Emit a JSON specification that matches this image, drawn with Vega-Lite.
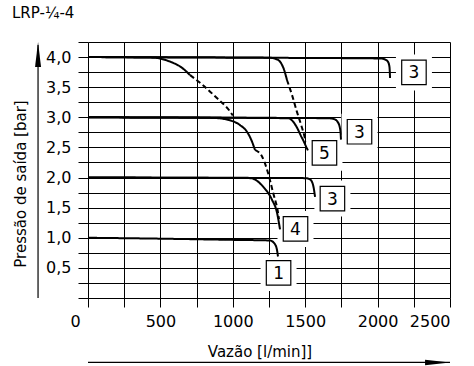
{
  "$schema": "https://vega.github.io/schema/vega-lite/v6.json",
  "width": 362,
  "height": 256,
  "autosize": "none",
  "padding": {"left": 88, "top": 42, "right": 24, "bottom": 68},
  "background": "white",
  "title": {"text": "LRP-¼-4", "anchor": "start", "frame": "group", "dx": -76, "offset": 1, "baseline": "alphabetic", "font": "DejaVu Sans", "fontSize": 15, "fontWeight": "normal", "color": "black"},
  "config": {
    "view": {"stroke": null},
    "axis": {"labelFont": "DejaVu Sans", "titleFont": "DejaVu Sans", "labelColor": "black", "titleColor": "black", "tickColor": "black", "tickWidth": 1, "domain": false, "titleFontWeight": "normal", "labelOverlap": false}
  },
  "datasets": {
    "curves": [
      {"s": "s4_3", "st": "solid", "i": 0, "x": 0, "y": 4.0},
      {"s": "s4_3", "st": "solid", "i": 1, "x": 1000, "y": 3.99},
      {"s": "s4_3", "st": "solid", "i": 2, "x": 2017, "y": 3.977},
      {"s": "s4_3", "st": "solid", "i": 3, "x": 2051, "y": 3.96},
      {"s": "s4_3", "st": "solid", "i": 4, "x": 2072, "y": 3.92},
      {"s": "s4_3", "st": "solid", "i": 5, "x": 2082, "y": 3.835},
      {"s": "s4_3", "st": "solid", "i": 6, "x": 2086, "y": 3.654},
      {"s": "s4_5", "st": "solid", "i": 0, "x": 0, "y": 4.0},
      {"s": "s4_5", "st": "solid", "i": 1, "x": 1250, "y": 3.99},
      {"s": "s4_5", "st": "solid", "i": 2, "x": 1298, "y": 3.968},
      {"s": "s4_5", "st": "solid", "i": 3, "x": 1333, "y": 3.9},
      {"s": "s4_5", "st": "solid", "i": 4, "x": 1354, "y": 3.79},
      {"s": "s4_5", "st": "solid", "i": 5, "x": 1374, "y": 3.62},
      {"s": "s4_4", "st": "solid", "i": 0, "x": 0, "y": 4.0},
      {"s": "s4_4", "st": "solid", "i": 1, "x": 449, "y": 3.99},
      {"s": "s4_4", "st": "solid", "i": 2, "x": 560, "y": 3.93},
      {"s": "s4_4", "st": "solid", "i": 3, "x": 650, "y": 3.82},
      {"s": "s4_4", "st": "solid", "i": 4, "x": 705, "y": 3.7},
      {"s": "d4_4", "st": "dashed", "i": 0, "x": 705, "y": 3.7},
      {"s": "d4_4", "st": "dashed", "i": 1, "x": 790, "y": 3.54},
      {"s": "d4_4", "st": "dashed", "i": 2, "x": 890, "y": 3.32},
      {"s": "d4_4", "st": "dashed", "i": 3, "x": 980, "y": 3.1},
      {"s": "d4_4", "st": "dashed", "i": 4, "x": 1000, "y": 3.03},
      {"s": "d4_5", "st": "dashed", "i": 0, "x": 1374, "y": 3.62},
      {"s": "d4_5", "st": "dashed", "i": 1, "x": 1409, "y": 3.37},
      {"s": "d4_5", "st": "dashed", "i": 2, "x": 1443, "y": 3.09},
      {"s": "d4_5", "st": "dashed", "i": 3, "x": 1471, "y": 2.88},
      {"s": "d4_5", "st": "dashed", "i": 4, "x": 1492, "y": 2.71},
      {"s": "d4_5", "st": "dashed", "i": 5, "x": 1503, "y": 2.6},
      {"s": "s3_3", "st": "solid", "i": 0, "x": 0, "y": 3.0},
      {"s": "s3_3", "st": "solid", "i": 1, "x": 1650, "y": 2.985},
      {"s": "s3_3", "st": "solid", "i": 2, "x": 1700, "y": 2.97},
      {"s": "s3_3", "st": "solid", "i": 3, "x": 1725, "y": 2.92},
      {"s": "s3_3", "st": "solid", "i": 4, "x": 1740, "y": 2.82},
      {"s": "s3_3", "st": "solid", "i": 5, "x": 1745, "y": 2.72},
      {"s": "s3_3", "st": "solid", "i": 6, "x": 1747, "y": 2.63},
      {"s": "s3_5", "st": "solid", "i": 0, "x": 0, "y": 3.0},
      {"s": "s3_5", "st": "solid", "i": 1, "x": 1381, "y": 2.985},
      {"s": "s3_5", "st": "solid", "i": 2, "x": 1416, "y": 2.93},
      {"s": "s3_5", "st": "solid", "i": 3, "x": 1443, "y": 2.83},
      {"s": "s3_5", "st": "solid", "i": 4, "x": 1471, "y": 2.69},
      {"s": "s3_5", "st": "solid", "i": 5, "x": 1492, "y": 2.59},
      {"s": "s3_5", "st": "solid", "i": 6, "x": 1509, "y": 2.5},
      {"s": "s3_5", "st": "solid", "i": 7, "x": 1519, "y": 2.45},
      {"s": "s3_4", "st": "solid", "i": 0, "x": 0, "y": 3.0},
      {"s": "s3_4", "st": "solid", "i": 1, "x": 863, "y": 2.99},
      {"s": "s3_4", "st": "solid", "i": 2, "x": 980, "y": 2.95},
      {"s": "s3_4", "st": "solid", "i": 3, "x": 1050, "y": 2.87},
      {"s": "s3_4", "st": "solid", "i": 4, "x": 1098, "y": 2.76},
      {"s": "s3_4", "st": "solid", "i": 5, "x": 1132, "y": 2.6},
      {"s": "s3_4", "st": "solid", "i": 6, "x": 1153, "y": 2.46},
      {"s": "d3_4", "st": "dashed", "i": 0, "x": 1153, "y": 2.46},
      {"s": "d3_4", "st": "dashed", "i": 1, "x": 1202, "y": 2.35},
      {"s": "d3_4", "st": "dashed", "i": 2, "x": 1243, "y": 2.08},
      {"s": "d3_4", "st": "dashed", "i": 3, "x": 1278, "y": 1.75},
      {"s": "d3_4", "st": "dashed", "i": 4, "x": 1312, "y": 1.42},
      {"s": "d3_4", "st": "dashed", "i": 5, "x": 1319, "y": 1.31},
      {"s": "s2_3", "st": "solid", "i": 0, "x": 0, "y": 2.0},
      {"s": "s2_3", "st": "solid", "i": 1, "x": 1499, "y": 1.99},
      {"s": "s2_3", "st": "solid", "i": 2, "x": 1533, "y": 1.97},
      {"s": "s2_3", "st": "solid", "i": 3, "x": 1554, "y": 1.88},
      {"s": "s2_3", "st": "solid", "i": 4, "x": 1568, "y": 1.68},
      {"s": "s2_4", "st": "solid", "i": 0, "x": 0, "y": 2.0},
      {"s": "s2_4", "st": "solid", "i": 1, "x": 1119, "y": 1.99},
      {"s": "s2_4", "st": "solid", "i": 2, "x": 1209, "y": 1.85},
      {"s": "s2_4", "st": "solid", "i": 3, "x": 1271, "y": 1.63},
      {"s": "s2_4", "st": "solid", "i": 4, "x": 1305, "y": 1.42},
      {"s": "s2_4", "st": "solid", "i": 5, "x": 1326, "y": 1.14},
      {"s": "s1", "st": "solid", "i": 0, "x": 0, "y": 1.0},
      {"s": "s1", "st": "solid", "i": 1, "x": 500, "y": 0.985},
      {"s": "s1", "st": "solid", "i": 2, "x": 1000, "y": 0.965},
      {"s": "s1", "st": "solid", "i": 3, "x": 1257, "y": 0.955},
      {"s": "s1", "st": "solid", "i": 4, "x": 1292, "y": 0.89},
      {"s": "s1", "st": "solid", "i": 5, "x": 1305, "y": 0.8},
      {"s": "s1", "st": "solid", "i": 6, "x": 1312, "y": 0.69}
    ],
    "boxes": [
      {"label": "3", "x": 2251, "y": 3.745},
      {"label": "3", "x": 1875, "y": 2.76},
      {"label": "5", "x": 1633, "y": 2.41},
      {"label": "3", "x": 1688, "y": 1.65},
      {"label": "4", "x": 1433, "y": 1.146},
      {"label": "1", "x": 1316, "y": 0.417}
    ],
    "axisLines": [
      {"x": 0, "x2": 2500, "y": -1.07, "y2": -1.07},
      {"x": -345, "x2": -345, "y": 0, "y2": 4.2}
    ],
    "arrowX": [{"x": 2414, "y": -1.07}],
    "arrowY": [{"x": -345, "y": 4.043}]
  },
  "encoding": {
    "x": {"field": "x", "type": "quantitative", "scale": {"domain": [0, 2500], "nice": false, "zero": false},
      "axis": {"values": [0, 250, 500, 750, 1000, 1250, 1500, 1750, 2000, 2250, 2500], "grid": true, "gridColor": "black", "gridWidth": 1, "gridOpacity": 1, "tickSize": 9, "labelFontSize": 16, "labelPadding": 6,
        "labelExpr": "datum.value % 500 == 0 ? '' + datum.value : ''",
        "labelOffset": {"condition": {"test": "datum.value == 0", "value": -18}, "value": 0},
        "title": "Vazão [l/min]]", "titleFontSize": 15, "titleX": 171.5, "titleY": 58, "titleAnchor": "middle", "titleAlign": "center", "titleBaseline": "alphabetic"}},
    "y": {"field": "y", "type": "quantitative", "scale": {"domain": [0, 4.25], "nice": false, "zero": false},
      "axis": {"values": [0, 0.25, 0.5, 0.75, 1, 1.25, 1.5, 1.75, 2, 2.25, 2.5, 2.75, 3, 3.25, 3.5, 3.75, 4, 4.25], "grid": true, "gridColor": "black", "gridWidth": 1, "gridOpacity": 1, "tickSize": 10, "labelFontSize": 16, "labelPadding": 7,
        "labelExpr": "datum.value > 0 && datum.value <= 4 && (datum.value * 2) % 1 == 0 ? replace(format(datum.value, '.1f'), '.', ',') : ''",
        "title": "Pressão de saída [bar]", "titleFontSize": 15, "titleAngle": -90, "titleX": -68, "titleY": 141.5, "titleAlign": "center", "titleBaseline": "middle"}}
  },
  "layer": [
    {
      "data": {"name": "boxes"},
      "mark": {"type": "point", "shape": "square", "filled": true, "color": "white", "size": 1296, "opacity": 1, "strokeWidth": 0}
    },
    {
      "data": {"name": "curves"},
      "mark": {"type": "line", "color": "black", "strokeWidth": 2, "interpolate": "monotone"},
      "encoding": {
        "detail": {"field": "s"},
        "order": {"field": "i", "type": "quantitative"},
        "strokeDash": {"field": "st", "type": "nominal", "scale": {"domain": ["solid", "dashed"], "range": [[1, 0], [5, 3]]}, "legend": null}
      }
    },
    {
      "data": {"name": "axisLines"},
      "mark": {"type": "rule", "color": "black", "strokeWidth": 1.2, "clip": false},
      "encoding": {
        "x2": {"field": "x2"},
        "y2": {"field": "y2"}
      }
    },
    {
      "data": {"name": "arrowX"},
      "mark": {"type": "point", "shape": "M -1 -0.22 L 1 0 L -1 0.22 Z", "filled": true, "color": "black", "size": 625, "opacity": 1}
    },
    {
      "data": {"name": "arrowY"},
      "mark": {"type": "point", "shape": "M -0.24 1 L 0 -1 L 0.24 1 Z", "filled": true, "color": "black", "size": 625, "opacity": 1}
    },
    {
      "data": {"name": "boxes"},
      "mark": {"type": "point", "shape": "square", "filled": true, "fill": "white", "stroke": "black", "strokeWidth": 1.2, "size": 600, "opacity": 1}
    },
    {
      "data": {"name": "boxes"},
      "mark": {"type": "text", "font": "DejaVu Sans", "fontSize": 17, "color": "black", "align": "center", "baseline": "middle", "dy": 1},
      "encoding": {
        "text": {"field": "label"}
      }
    }
  ]
}
